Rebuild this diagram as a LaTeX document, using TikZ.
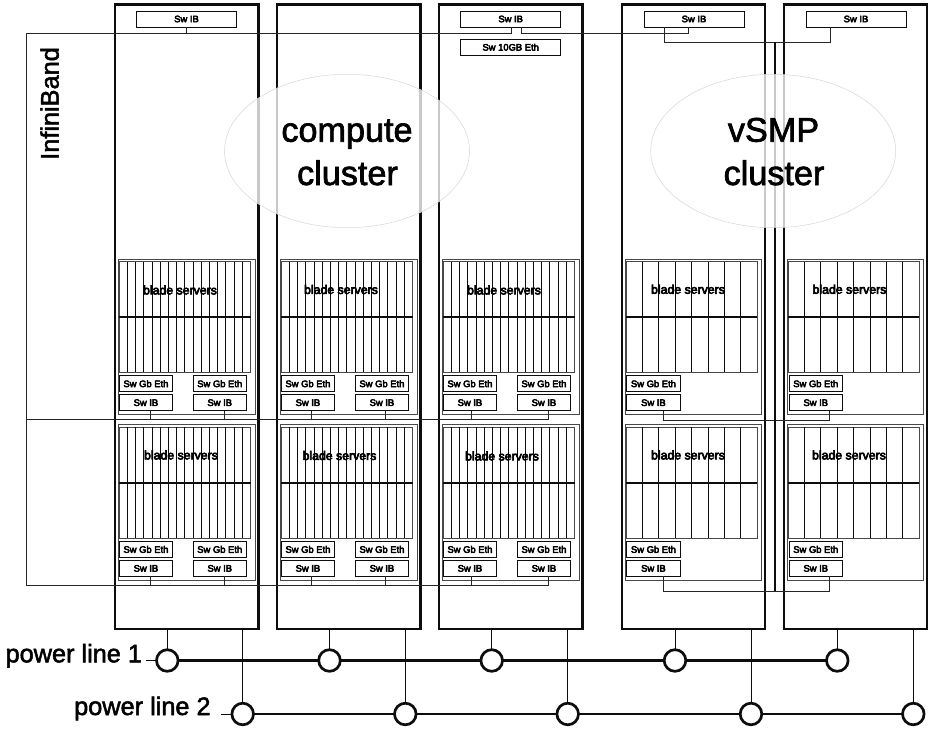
\documentclass[tikz,border=0pt]{standalone}
\usepackage{fontspec}
\setmainfont{Liberation Sans}
\newfontfamily\smallbold[FakeBold=5]{Liberation Sans}
\newfontfamily\largebold[FakeBold=2]{Liberation Sans}
\usetikzlibrary{shapes.geometric,calc}
\definecolor{ink}{gray}{0.05}
\tikzset{
  rackbox/.style={draw=ink,line width=2.2pt,minimum width=143.5pt,minimum height=624.2pt,inner sep=0,outer sep=0,anchor=north west},
  chassisbox/.style={draw=ink!75,line width=1pt,minimum width=136.5pt,minimum height=155.5pt,inner sep=0,outer sep=0,anchor=north west},
  bladebox/.style={draw=ink!75,line width=1pt,minimum width=131.4pt,minimum height=110.6pt,inner sep=0,outer sep=0,anchor=north west},
  swbox/.style={draw=ink,line width=1pt,minimum width=53.5pt,minimum height=16pt,inner sep=0,outer sep=0,font=\smallbold\fontsize{9.4}{10}\selectfont,fill=white},
  wideswbox/.style={swbox,minimum width=100pt},
  slotline/.style={ink,line width=1pt},
  midline/.style={ink,line width=1.7pt},
  bus/.style={ink!90,line width=1pt},
  wire/.style={ink,line width=1pt},
  powerbus/.style={ink,line width=2.7pt},
  tap/.style={circle,draw=ink,line width=2.7pt,fill=white,minimum size=21.6pt,inner sep=0,outer sep=0},
  cloud/.style={ellipse,draw=black!16,line width=0.5pt,fill=white,fill opacity=0.78,draw opacity=1,minimum width=245pt,minimum height=153.4pt,inner sep=0},
  biglabel/.style={font=\largebold\fontsize{34.2}{36}\selectfont,anchor=base,inner sep=0,text=black},
  sidelabel/.style={font=\largebold\fontsize{25.3}{27}\selectfont,inner sep=0,text=black},
  bladelabel/.style={font=\smallbold\fontsize{12.3}{13}\selectfont,inner sep=0,text=black},
}
% name, outer x, outer top, slots
\newcommand\chassis[4]{%
  \node[chassisbox] (#1) at (#2,#3) {};
  \pgfmathsetmacro\bx{#2+0.7}\pgfmathsetmacro\by{#3+2.7}%
  \node[bladebox] (#1b) at (\bx,\by) {};
  \pgfmathtruncatemacro\last{#4-1}%
  \foreach \i in {1,...,\last}{
    \draw[slotline] ($(#1b.north west)!\i/#4!(#1b.north east)$) -- ($(#1b.south west)!\i/#4!(#1b.south east)$);
  }
  \draw[midline] (#1b.west) -- (#1b.east);
}
% name, box left x, chassis top
\newcommand\swpair[3]{%
  \pgfmathsetmacro\cx{#2+26.75}\pgfmathsetmacro\ya{#3+124.7}\pgfmathsetmacro\yb{#3+143.7}%
  \node[swbox] (#1gb) at (\cx,\ya) {Sw Gb Eth};
  \node[swbox] (#1ib) at (\cx,\yb) {Sw IB};
}
\begin{document}
\begin{tikzpicture}[x=1pt,y=-1pt]
\useasboundingbox (0,0) rectangle (928,728);
% racks
\node[rackbox] (rackA) at (115,4.5) {};
\node[rackbox] (rackB) at (277,4.5) {};
\node[rackbox] (rackC) at (439,4.5) {};
\node[rackbox] (rackD) at (621.7,4.5) {};
\node[rackbox] (rackE) at (783.8,4.5) {};
% top switches
\node[wideswbox] (topA) at (186.5,19) {Sw IB};
\node[wideswbox] (topC) at (510.7,19) {Sw IB};
\node[wideswbox] (tenC) at (510.7,47.2) {Sw 10GB Eth};
\node[wideswbox] (topD) at (694,19) {Sw IB};
\node[wideswbox] (topE) at (856,19) {Sw IB};
% chassis
\chassis{Au}{118.5}{259}{16}
\chassis{Al}{118.5}{424.7}{16}
\chassis{Bu}{280.5}{259}{16}
\chassis{Bl}{280.5}{424.7}{16}
\chassis{Cu}{442.5}{259}{16}
\chassis{Cl}{442.5}{424.7}{16}
\chassis{Du}{625.3}{259}{8}
\chassis{Dl}{625.3}{424.7}{8}
\chassis{Eu}{787.3}{259}{8}
\chassis{El}{787.3}{424.7}{8}
% switches in the chassis
\swpair{Aua}{119.2}{259}\swpair{Aub}{193}{259}
\swpair{Ala}{119.2}{424.7}\swpair{Alb}{193}{424.7}
\swpair{Bua}{281.2}{259}\swpair{Bub}{355.2}{259}
\swpair{Bla}{281.2}{424.7}\swpair{Blb}{355.2}{424.7}
\swpair{Cua}{443.2}{259}\swpair{Cub}{517.2}{259}
\swpair{Cla}{443.2}{424.7}\swpair{Clb}{517.2}{424.7}
\swpair{Dua}{626.7}{259}
\swpair{Dla}{626.7}{424.7}
\swpair{Eua}{789}{259}
\swpair{Ela}{789}{424.7}
% InfiniBand network
\coordinate (ibTL) at (26,33.5);
\coordinate (ibML) at (26,419.3);
\coordinate (ibBL) at (26,585);
\draw[bus] ([xshift=1.2pt]topC.south) -- ([xshift=1.2pt]topC.south |- ibTL) -- (ibTL) -- (ibBL) -- ([xshift=4.3pt]Clbib.south |- ibBL) -- ([xshift=4.3pt]Clbib.south);
\draw[bus] (ibML) -- ([xshift=4.3pt]Cubib.south |- ibML) -- ([xshift=4.3pt]Cubib.south);
\draw[bus] (topA.south) -- (topA.south |- ibTL);
\draw[bus] ([xshift=11pt]topC.south) -- ([xshift=11pt]topC.south |- ibTL) -- ([xshift=-6pt]topD.south |- ibTL) -- ([xshift=-6pt]topD.south);
\foreach \sw/\dx in {Auaib/4.3,Aubib/4.8,Buaib/3.3,Bubib/3.6,Cuaib/2}{
  \draw[bus] ([xshift=\dx pt]\sw.south) -- ([xshift=\dx pt]\sw.south |- ibML);
}
\foreach \sw/\dx in {Alaib/4.3,Albib/4.8,Blaib/3.3,Blbib/3.6,Claib/2}{
  \draw[bus] ([xshift=\dx pt]\sw.south) -- ([xshift=\dx pt]\sw.south |- ibBL);
}
% vSMP network
\coordinate (vT) at (775,42);
\coordinate (vM) at (775,420.7);
\coordinate (vB) at (775,591.3);
\draw[bus] ([xshift=-30pt]topD.south) -- ([xshift=-30pt]topD.south |- vT) -- ([xshift=-26pt]topE.south |- vT) -- ([xshift=-26pt]topE.south);
\draw[bus] ([xshift=10pt]Duaib.south) -- ([xshift=10pt]Duaib.south |- vM) -- ([xshift=14.2pt]Euaib.south |- vM) -- ([xshift=14.2pt]Euaib.south);
\draw[bus] ([xshift=10pt]Dlaib.south) -- ([xshift=10pt]Dlaib.south |- vB) -- ([xshift=14.2pt]Elaib.south |- vB) -- ([xshift=14.2pt]Elaib.south);
\draw[ink,line width=2pt] (vT) -- (vB);
% power
\coordinate (stubA) at (145.7,660.5);
\coordinate (stubB) at (221,714);
\draw[powerbus] (167.3,660.5) -- (837.3,660.5);
\draw[powerbus] (242.7,714) -- (913.3,714);
\foreach \n/\x in {A/167.3,B/329.5,C/491.7,D/675,E/837.3}{
  \node[tap] (pa\n) at (\x,660.5) {};
  \draw[wire] (pa\n.north) -- (pa\n.north |- rack\n.south);
}
\foreach \n/\x in {A/242.7,B/405.3,C/567.7,D/751,E/913.3}{
  \draw[wire] (\x,714) -- (\x,628.7);
  \node[tap] (pb\n) at (\x,714) {};
}
\draw[ink,line width=0.7pt] (stubA) -- (paA.west);
\draw[ink,line width=0.7pt] (stubB) -- (pbA.west);
% clusters
\node[cloud] (cloudL) at (347,151) {};
\node[cloud] (cloudR) at (773.2,151) {};
\node[biglabel] (t1) at (347,141.7) {compute};
\node[biglabel] (t2) at (347.5,185) {cluster};
\node[biglabel] (t3) at (773.5,141.7) {vSMP};
\node[biglabel] (t4) at (774,185) {cluster};
% labels
\node[sidelabel,rotate=90,anchor=base] (ib) at (58.6,103.5) {InfiniBand};
\node[sidelabel,anchor=base] (pl1) at (73.8,662.3) {power line 1};
\node[sidelabel,anchor=base] (pl2) at (142.4,715) {power line 2};
\foreach \n/\x/\y in {a/180/290,b/181/455,c/341/289.5,d/339.5/455.5,e/504/290,f/502/456,g/688/289.3,h/688/455,i/849.5/289.3,j/849/455}{
  \node[bladelabel] (bl\n) at (\x,\y) {blade servers};
}
\end{tikzpicture}
\end{document}
